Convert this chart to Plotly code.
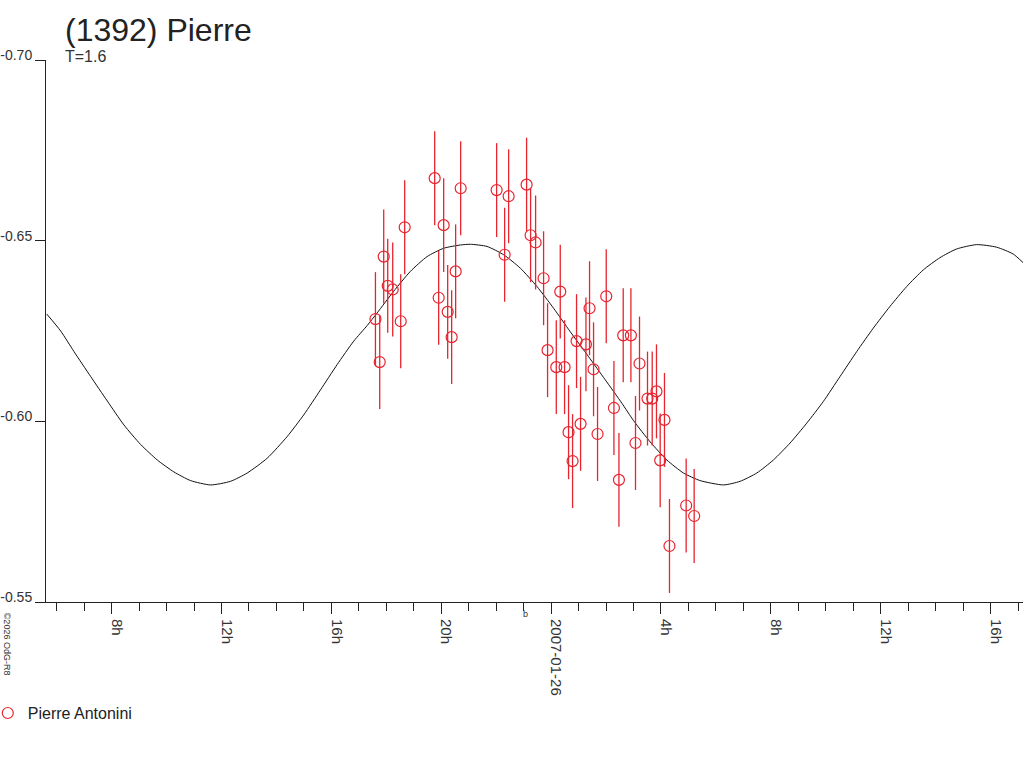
import pandas as pd
import plotly.graph_objects as go

# Lightcurve of (1392) Pierre, observer Pierre Antonini
# times are hours since 2007-01-25 00:00 UT, values are relative magnitudes
BASE = pd.Timestamp("2007-01-25 00:00")

obs_hours = [
    17.604, 17.760, 17.905, 18.051, 18.233, 18.524, 18.669, 19.761, 19.906,
    20.088, 20.234, 20.379, 20.524, 20.707, 22.016, 22.307, 22.453, 23.107,
    23.253, 23.435, 23.726, 23.871, 24.188, 24.333, 24.490, 24.635, 24.781,
    24.926, 25.072, 25.268, 25.399, 25.545, 25.690, 26.007, 26.287, 26.469,
    26.625, 26.905, 27.072, 27.218, 27.509, 27.680, 27.836, 27.971, 28.127,
    28.309, 28.917, 29.208,
]
obs_mag = [
    -0.6283, -0.6164, -0.6456, -0.6375, -0.6365, -0.6277, -0.6537, -0.6673, -0.6342,
    -0.6543, -0.6303, -0.6233, -0.6415, -0.6645, -0.6640, -0.6461, -0.6623, -0.6655,
    -0.6515, -0.6495, -0.6396, -0.6197, -0.6150, -0.6359, -0.6150, -0.5970, -0.5890,
    -0.6222, -0.5993, -0.6213, -0.6313, -0.6144, -0.5965, -0.6346, -0.6037, -0.5838,
    -0.6238, -0.6238, -0.5940, -0.6160, -0.6063, -0.6063, -0.6083, -0.5892, -0.6004,
    -0.5655, -0.5767, -0.5738,
]
obs_err = 0.013

# fitted model curve
fit_hours = [
    5.636, 6.145, 6.629, 7.236, 7.844, 8.447, 9.055, 9.662, 10.266, 10.874,
    11.601, 12.329, 12.936, 13.664, 14.391, 14.995, 15.603, 16.210, 16.814,
    17.302, 17.665, 18.269, 18.877, 19.484, 20.088, 20.696, 21.059, 21.667,
    22.271, 22.878, 23.486, 24.090, 24.697, 25.363, 25.970, 26.578, 27.000,
    27.607, 28.215, 28.818, 29.426, 30.274, 30.881, 31.489, 32.092, 32.700,
    33.307, 33.911, 34.519, 35.126, 35.730, 36.337, 36.945, 37.549, 38.157,
    38.764, 39.491, 40.219, 40.823, 41.187,
]
fit_mag = [
    -0.6297, -0.6250, -0.6193, -0.6124, -0.6056, -0.5990, -0.5936, -0.5893, -0.5860, -0.5836,
    -0.5824, -0.5834, -0.5857, -0.5898, -0.5958, -0.6018, -0.6087, -0.6157, -0.6222,
    -0.6265, -0.6300, -0.6360, -0.6415, -0.6456, -0.6479, -0.6488, -0.6490, -0.6484,
    -0.6461, -0.6424, -0.6373, -0.6313, -0.6248, -0.6179, -0.6115, -0.6050, -0.6002,
    -0.5943, -0.5893, -0.5857, -0.5836, -0.5824, -0.5834, -0.5857, -0.5893, -0.5940,
    -0.5995, -0.6055, -0.6124, -0.6193, -0.6258, -0.6318, -0.6373, -0.6419, -0.6453,
    -0.6477, -0.6489, -0.6482, -0.6463, -0.6439,
]

y_ticks = [-0.70, -0.65, -0.60, -0.55]
y_ticktext = ["-0.70", "-0.65", "-0.60", "-0.55"]
x_tick_hours = [8, 12, 16, 20, 24, 28, 32, 36, 40]
x_ticktext = ["8h", "12h", "16h", "20h", "2007-01-26", "4h", "8h", "12h", "16h"]
x_range_hours = [5.61, 41.18]

RED = "#e8242f"
AXIS = "#222222"


def to_time(hours):
    return BASE + pd.to_timedelta(hours, unit="h")


fig = go.Figure()

fig.add_trace(go.Scatter(
    x=to_time(fit_hours), y=fit_mag,
    mode="lines", line=dict(color="#111111", width=1, shape="spline", smoothing=0.6),
    showlegend=False, hoverinfo="skip",
))

fig.add_trace(go.Scatter(
    x=to_time(obs_hours), y=obs_mag,
    mode="markers", name="Pierre Antonini",
    marker=dict(symbol="circle-open", size=11, color=RED, line=dict(width=1.2, color=RED)),
    error_y=dict(type="constant", value=obs_err, color=RED, thickness=1.3, width=0),
))

font = "Liberation Sans, Arial, sans-serif"

fig.update_xaxes(
    range=list(to_time(x_range_hours)),
    tickmode="array",
    tickvals=list(to_time(x_tick_hours)),
    ticktext=x_ticktext,
    tickangle=90,
    ticks="outside", ticklen=11, tickwidth=1, tickcolor=AXIS,
    ticklabelstandoff=2, ticklabelshift=5,
    minor=dict(ticks="outside", dtick=3600000, tick0="2007-01-25 00:00",
               ticklen=8, tickwidth=1, tickcolor=AXIS),
    showline=True, linecolor=AXIS, linewidth=1,
    showgrid=False, zeroline=False, automargin=False,
    tickfont=dict(family=font, size=15, color="#333333"),
)
fig.update_yaxes(
    range=[-0.55, -0.70],
    tickmode="array", tickvals=y_ticks, ticktext=y_ticktext,
    ticks="outside", ticklen=10, tickwidth=1, tickcolor=AXIS,
    ticklabelstandoff=0, ticklabelshift=5,
    showline=True, linecolor=AXIS, linewidth=1,
    showgrid=False, zeroline=False, automargin=False,
    tickfont=dict(family=font, size=14, color="#333333"),
)

fig.update_layout(
    width=1024, height=768,
    margin=dict(l=46, r=1, t=60, b=166, autoexpand=False),
    paper_bgcolor="white", plot_bgcolor="white",
    font=dict(family=font, color="#222222"),
    title=dict(text="(1392) Pierre", x=65 / 1024, xanchor="left", xref="container",
               y=1 - 30 / 768, yanchor="middle", yref="container",
               font=dict(family=font, size=32, color="#222222")),
    legend=dict(x=-0.0596, xanchor="left", y=-0.205, yanchor="middle",
                font=dict(family=font, size=16, color="#222222"),
                bgcolor="rgba(0,0,0,0)"),
    showlegend=True,
)

fig.add_annotation(text="T=1.6", xref="paper", yref="paper", x=(63 - 46) / 977, y=1.006,
                   xanchor="left", yanchor="middle", showarrow=False,
                   font=dict(family=font, size=16, color="#333333"))
fig.add_annotation(text="b", x=to_time(23.06), xref="x", yref="paper", y=-0.01,
                   yanchor="top", showarrow=False,
                   font=dict(family=font, size=9, color="#333333"))
fig.add_annotation(text="\u00a92026 OdG-R8", xref="paper", yref="paper",
                   x=-0.0405, y=-0.016, xanchor="center", yanchor="top",
                   textangle=90, showarrow=False,
                   font=dict(family=font, size=9, color="#333333"))

# the page body has a default 8px margin; drop it so the figure sits at 0,0
fig.write_html("out.html", config={"displayModeBar": False},
               post_script="document.body.style.margin='0';")
